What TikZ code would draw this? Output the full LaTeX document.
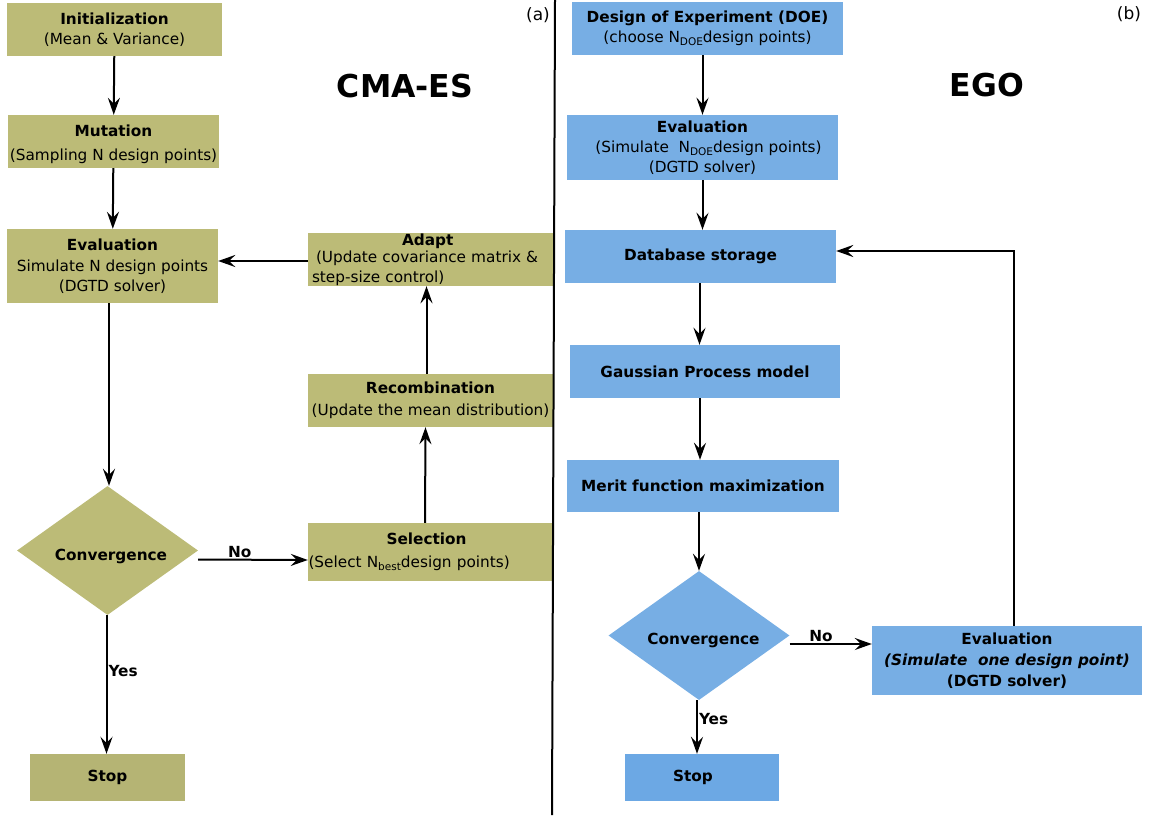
\documentclass[tikz,border=0pt]{standalone}
\usepackage{fontspec}
\setmainfont{DejaVu Sans}
\usetikzlibrary{arrows.meta,shapes.geometric}
\definecolor{oliveF}{RGB}{188,187,119}
\definecolor{oliveD}{RGB}{181,180,116}
\definecolor{blueF}{RGB}{119,174,228}
\definecolor{blueD}{RGB}{108,168,228}
\newcommand\mysub[1]{\raisebox{-3.5pt}{\fontsize{10.5}{10}\selectfont #1}}
\begin{document}
\begin{tikzpicture}[x=1pt,y=-1pt,
  txt/.style={font=\fontsize{15.3}{20}\selectfont},
  obox/.style={fill=oliveF, draw=none, align=center, inner sep=0pt, txt},
  bbox/.style={fill=blueF, draw=none, align=center, inner sep=0pt, txt},
  bf/.style={font=\fontsize{15.3}{20}\selectfont\bfseries},
  arr/.style={line width=2pt, -{Stealth[length=17pt,width=12pt,inset=6pt]}},
  plain/.style={line width=2pt},
  lbl/.style={font=\fontsize{15.3}{17}\selectfont\bfseries, inner sep=1pt},
  dec/.style={diamond, aspect=1.4, minimum width=181pt, minimum height=129pt,
    inner sep=0pt, font=\fontsize{15.3}{17}\selectfont\bfseries},
  title/.style={font=\fontsize{31.5}{34}\selectfont\bfseries},
  tag/.style={font=\fontsize{17}{20}\selectfont}
]
\useasboundingbox (0,0) rectangle (1151,819);

% ---------- CMA-ES ----------
\node[obox, minimum width=215pt, minimum height=53pt] (init) at (114.5,29.5)
  {\textbf{Initialization}\\(Mean \& Variance)};
\node[obox, minimum width=211pt, minimum height=53pt] (mut) at (113.5,141.5)
  {\raisebox{-2pt}[0.8em][0.2em]{\textbf{Mutation}}\\[4pt]\raisebox{-2pt}[0.8em][0.2em]{(Sampling N design points)}};
\node[obox, minimum width=211pt, minimum height=74pt] (evalL) at (112.5,266)
  {\textbf{Evaluation}\\[1pt]Simulate N design points\\(DGTD solver)};
\node[obox, minimum width=245pt, minimum height=53pt, text width=237pt, align=left] (adapt) at (430.5,259.5)
  {\hspace*{90pt}\textbf{Adapt}\\[-3pt]\hspace*{4pt}(Update covariance matrix \&\\step-size control)};
\node[obox, minimum width=245pt, minimum height=53pt] (recomb) at (430.5,400.5)
  {\textbf{Recombination}\\[2pt](Update the mean distribution)};
\node[obox, minimum width=244pt, minimum height=58pt, text width=243pt, align=left] (sel) at (430,552)
  {\hspace*{78pt}\textbf{Selection}\\[3pt](Select N\mysub{best}design points)};
\node[dec, fill=oliveF] (convL) at (107.5,550.5) {\hspace*{7pt}\raisebox{-5.5pt}[0.75em][0.2em]{Convergence}};
\node[obox, fill=oliveD, minimum width=155pt, minimum height=47pt, bf] (stopL) at (107.5,777.5) {Stop};

\node[title] (t1) at (405,86) {CMA-ES};
\node[tag] (ta) at (538,15) {(a)};

\draw[arr] (init) -- (mut);
\draw[arr] (mut) -- (evalL);
\draw[arr] ([yshift=-1.5pt]adapt.west) -- ([yshift=-1.5pt]adapt.west -| evalL.east);
\draw[arr] ([xshift=-4pt]recomb.north) -- ([xshift=-4pt]adapt.south);
\draw[arr] ([xshift=-5pt]sel.north) -- ([xshift=-5pt]recomb.south);
\draw[arr] ([xshift=1.5pt]evalL.south -| convL.north) -- ([xshift=1.5pt]convL.north);
\draw[arr] ([yshift=-9pt]convL.east) -- node[lbl, above, pos=0.38] {No} ([yshift=-8pt]sel.west);
\draw[arr] ([xshift=-1pt]convL.south) -- node[lbl, right, pos=0.4] {Yes} ([xshift=-1pt]convL.south |- stopL.north);

% ---------- divider ----------
\coordinate (divtop) at (555,0);
\coordinate (divbot) at (552,815);
\draw[plain] (divtop) -- (divbot);

% ---------- EGO ----------
\node[bbox, minimum width=271pt, minimum height=53pt] (doe) at (707.5,28.5)
  {\textbf{Design of Experiment (DOE)}\\(choose N\mysub{DOE}design points)};
\node[bbox, minimum width=271pt, minimum height=65pt] (evalR) at (702.5,147.5)
  {\textbf{Evaluation}\\\hspace*{12pt}(Simulate\ \ N\mysub{DOE}design points)\\(DGTD solver)};
\node[bbox, minimum width=271pt, minimum height=53pt, bf] (db) at (700.5,256.5)
  {Database storage};
\node[bbox, minimum width=270pt, minimum height=53pt, bf] (gp) at (705,371.5)
  {Gaussian Process model};
\node[bbox, minimum width=272pt, minimum height=52pt, bf] (merit) at (703,486)
  {\raisebox{1.5pt}{Merit function maximization}};
\node[dec, fill=blueF] (convR) at (699,635.5) {\hspace*{9pt}\raisebox{-4.5pt}[0.75em][0.2em]{Convergence}};
\node[bbox, fill=blueD, minimum width=154pt, minimum height=47pt, bf] (stopR) at (702,777.5)
  {\hspace*{-18pt}\raisebox{-2pt}{Stop}};
\node[bbox, minimum width=270pt, minimum height=69pt, font=\fontsize{15.3}{21}\selectfont\bfseries] (eval2) at (1007,660.5)
  {Evaluation\\\textit{(Simulate\ \ one design point)}\\(DGTD solver)};

\node[title] (t2) at (987,85) {EGO};
\node[tag] (tb) at (1129,14) {(b)};

\draw[arr] ([xshift=-5pt]doe.south) -- ([xshift=-5pt]doe.south |- evalR.north);
\draw[arr] (evalR.south) -- (evalR.south |- db.north);
\draw[arr] ([xshift=-1pt]db.south) -- ([xshift=-1pt]db.south |- gp.north);
\draw[arr] ([xshift=-5pt]gp.south) -- ([xshift=-5pt]gp.south |- merit.north);
\draw[arr] ([xshift=-4pt]merit.south) -- ([xshift=-4pt]merit.south |- convR.north);
\draw[arr] ([yshift=-8.5pt]convR.east) -- node[lbl, above, pos=0.38] {No} ([yshift=-8.5pt]convR.east -| eval2.west);
\draw[arr] ([xshift=-2pt]convR.south) -- node[lbl, right, pos=0.35] {Yes} ([xshift=-2pt]convR.south |- stopR.north);
\coordinate (fb) at (1014,251);
\draw[arr] (eval2.north -| fb) -- (fb) -- (fb -| db.east);
\end{tikzpicture}
\end{document}
